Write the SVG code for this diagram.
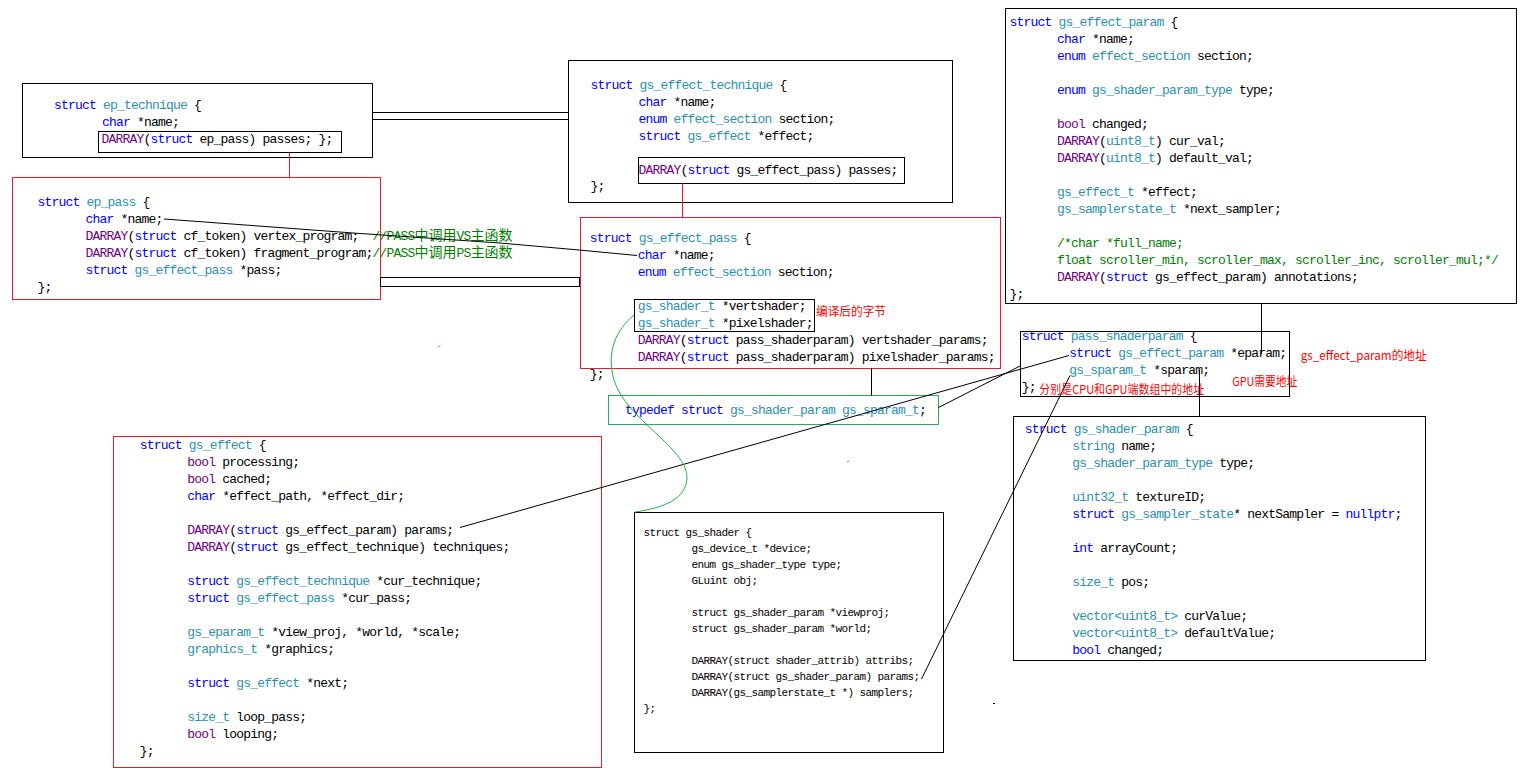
<svg xmlns="http://www.w3.org/2000/svg" width="1529" height="768" viewBox="0 0 1529 768">
<style>
.bg{fill:#fff}
.bx{fill:none;stroke:#000;stroke-width:1}
.rb{fill:none;stroke:#ed1c24;stroke-width:1}
.gb{fill:none;stroke:#22b14c;stroke-width:1}
.c{font-family:"Liberation Mono","Noto Sans CJK SC",monospace;font-size:13px;letter-spacing:-0.8px;fill:#000}
.s{font-family:"Liberation Mono","Noto Sans CJK SC",monospace;font-size:11px;letter-spacing:-0.6px;fill:#000}
.k{fill:#0000ff}
.t{fill:#2b91af}
.p{fill:#6f008a}
.g{fill:#008000}
.z{font-family:"Noto Sans CJK SC",sans-serif;font-size:14px;letter-spacing:0px}
.r{font-family:"Noto Sans CJK SC",sans-serif;font-size:12px;fill:#ff0000}
.ln{fill:none;stroke:#000;stroke-width:1}
.rl{fill:none;stroke:#ed1c24;stroke-width:1}
.gl{fill:none;stroke:#22b14c;stroke-width:1}
</style>
<rect class="bg" x="0" y="0" width="1529" height="768"/>

<g id="ep_technique">
<rect class="bx" x="22.5" y="83.5" width="350" height="74"/>
<rect class="bx" x="98.5" y="131.5" width="243" height="21"/>
<text class="c" x="54" y="109"><tspan class="k">struct</tspan> <tspan class="t">ep_technique</tspan> {</text>
<text class="c" x="102" y="126"><tspan class="k">char</tspan> *name;</text>
<text class="c" x="101.5" y="143"><tspan class="p">DARRAY</tspan>(<tspan class="k">struct</tspan> ep_pass) passes; };</text>
</g>

<g id="ep_pass">
<rect class="rb" x="12.5" y="177.5" width="368" height="122"/>
<text class="c" x="37.5" y="205.5"><tspan class="k">struct</tspan> <tspan class="t">ep_pass</tspan> {</text>
<text class="c" x="85.5" y="222.5"><tspan class="k">char</tspan> *name;</text>
<text class="c" x="85.5" y="239.5"><tspan class="p">DARRAY</tspan>(<tspan class="k">struct</tspan> cf_token) vertex_program;<tspan class="g" x="372.5">//PASS<tspan class="z">中调用</tspan>VS<tspan class="z">主函数</tspan></tspan></text>
<text class="c" x="85.5" y="256.5"><tspan class="p">DARRAY</tspan>(<tspan class="k">struct</tspan> cf_token) fragment_program;<tspan class="g">//PASS<tspan class="z">中调用</tspan>PS<tspan class="z">主函数</tspan></tspan></text>
<text class="c" x="85.5" y="273.5"><tspan class="k">struct</tspan> <tspan class="t">gs_effect_pass</tspan> *pass;</text>
<text class="c" x="37.5" y="290.5">};</text>
</g>

<g id="gs_effect_technique">
<rect class="bx" x="568.5" y="60.5" width="384" height="142"/>
<rect class="bx" x="638.5" y="157.5" width="266" height="26"/>
<text class="c" x="590.5" y="88.5"><tspan class="k">struct</tspan> <tspan class="t">gs_effect_technique</tspan> {</text>
<text class="c" x="638.5" y="105.5"><tspan class="k">char</tspan> *name;</text>
<text class="c" x="638.5" y="122.5"><tspan class="k">enum</tspan> <tspan class="t">effect_section</tspan> section;</text>
<text class="c" x="638.5" y="139.5"><tspan class="k">struct</tspan> <tspan class="t">gs_effect</tspan> *effect;</text>
<text class="c" x="638.5" y="173.5"><tspan class="p">DARRAY</tspan>(<tspan class="k">struct</tspan> gs_effect_pass) passes;</text>
<text class="c" x="590.5" y="190">};</text>
</g>

<g id="gs_effect_pass">
<rect class="rb" x="580.5" y="217.5" width="420" height="151"/>
<rect class="bx" x="634.5" y="299.5" width="180" height="32"/>
<text class="c" x="589.7" y="241.5"><tspan class="k">struct</tspan> <tspan class="t">gs_effect_pass</tspan> {</text>
<text class="c" x="637.7" y="258.5"><tspan class="k">char</tspan> *name;</text>
<text class="c" x="637.7" y="275.5"><tspan class="k">enum</tspan> <tspan class="t">effect_section</tspan> section;</text>
<text class="c" x="637.7" y="309.5"><tspan class="t">gs_shader_t</tspan> *vertshader;</text>
<text class="c" x="637.7" y="326.5"><tspan class="t">gs_shader_t</tspan> *pixelshader;</text>
<text class="c" x="637.7" y="343.5"><tspan class="p">DARRAY</tspan>(<tspan class="k">struct</tspan> pass_shaderparam) vertshader_params;</text>
<text class="c" x="637.7" y="360.5"><tspan class="p">DARRAY</tspan>(<tspan class="k">struct</tspan> pass_shaderparam) pixelshader_params;</text>
<text class="c" x="589.7" y="377.5">};</text>
<text class="r" x="816" y="316" textLength="70" lengthAdjust="spacingAndGlyphs">编译后的字节</text>
</g>

<g id="gs_effect_param">
<rect class="bx" x="1005.5" y="8.5" width="511" height="295"/>
<text class="c" x="1009.5" y="25.5"><tspan class="k">struct</tspan> <tspan class="t">gs_effect_param</tspan> {</text>
<text class="c" x="1057" y="42.5"><tspan class="k">char</tspan> *name;</text>
<text class="c" x="1057" y="59.5"><tspan class="k">enum</tspan> <tspan class="t">effect_section</tspan> section;</text>
<text class="c" x="1057" y="93.5"><tspan class="k">enum</tspan> <tspan class="t">gs_shader_param_type</tspan> type;</text>
<text class="c" x="1057" y="127.5"><tspan class="p">bool</tspan> changed;</text>
<text class="c" x="1057" y="144.5"><tspan class="p">DARRAY</tspan>(<tspan class="t">uint8_t</tspan>) cur_val;</text>
<text class="c" x="1057" y="161.5"><tspan class="p">DARRAY</tspan>(<tspan class="t">uint8_t</tspan>) default_val;</text>
<text class="c" x="1057" y="195.5"><tspan class="t">gs_effect_t</tspan> *effect;</text>
<text class="c" x="1057" y="212.5"><tspan class="t">gs_samplerstate_t</tspan> *next_sampler;</text>
<text class="c g" x="1057" y="246.5">/*char *full_name;</text>
<text class="c g" x="1057" y="263.5">float scroller_min, scroller_max, scroller_inc, scroller_mul;*/</text>
<text class="c" x="1057" y="280.5"><tspan class="p">DARRAY</tspan>(<tspan class="k">struct</tspan> gs_effect_param) annotations;</text>
<text class="c" x="1009.5" y="297.5">};</text>
</g>

<g id="pass_shaderparam">
<rect class="bx" x="1020.5" y="331.5" width="269" height="65"/>
<text class="c" x="1021.7" y="339.5"><tspan class="k">struct</tspan> <tspan class="t">pass_shaderparam</tspan> {</text>
<text class="c" x="1069.3" y="356.5"><tspan class="k">struct</tspan> <tspan class="t">gs_effect_param</tspan> *eparam;</text>
<text class="c" x="1069.3" y="373.5"><tspan class="t">gs_sparam_t</tspan> *sparam;</text>
<text class="c" x="1021.7" y="390.5">};</text>
<text class="r" x="1039.3" y="394" textLength="165" lengthAdjust="spacingAndGlyphs">分别是CPU和GPU端数组中的地址</text>
<text class="r" x="1232.3" y="386" textLength="65" lengthAdjust="spacingAndGlyphs">GPU需要地址</text>
<text class="r" x="1300.7" y="359.5" textLength="126" lengthAdjust="spacingAndGlyphs">gs_effect_param的地址</text>
</g>

<g id="typedef_sparam">
<rect class="gb" x="608.5" y="395.5" width="330" height="29"/>
<text class="c" x="625" y="413.5"><tspan class="k">typedef struct</tspan> <tspan class="t">gs_shader_param gs_sparam_t</tspan>;</text>
</g>

<g id="gs_effect">
<rect class="rb" x="113.5" y="436.5" width="488" height="331"/>
<text class="c" x="139.7" y="448.5"><tspan class="k">struct</tspan> <tspan class="t">gs_effect</tspan> {</text>
<text class="c" x="187.3" y="465.5"><tspan class="p">bool</tspan> processing;</text>
<text class="c" x="187.3" y="482.5"><tspan class="p">bool</tspan> cached;</text>
<text class="c" x="187.3" y="499.5"><tspan class="k">char</tspan> *effect_path, *effect_dir;</text>
<text class="c" x="187.3" y="533.5"><tspan class="p">DARRAY</tspan>(<tspan class="k">struct</tspan> gs_effect_param) params;</text>
<text class="c" x="187.3" y="550.5"><tspan class="p">DARRAY</tspan>(<tspan class="k">struct</tspan> gs_effect_technique) techniques;</text>
<text class="c" x="187.3" y="584.5"><tspan class="k">struct</tspan> <tspan class="t">gs_effect_technique</tspan> *cur_technique;</text>
<text class="c" x="187.3" y="601.5"><tspan class="k">struct</tspan> <tspan class="t">gs_effect_pass</tspan> *cur_pass;</text>
<text class="c" x="187.3" y="635.5"><tspan class="t">gs_eparam_t</tspan> *view_proj, *world, *scale;</text>
<text class="c" x="187.3" y="652.5"><tspan class="t">graphics_t</tspan> *graphics;</text>
<text class="c" x="187.3" y="686.5"><tspan class="k">struct</tspan> <tspan class="t">gs_effect</tspan> *next;</text>
<text class="c" x="187.3" y="720.5"><tspan class="t">size_t</tspan> loop_pass;</text>
<text class="c" x="187.3" y="737.5"><tspan class="p">bool</tspan> looping;</text>
<text class="c" x="139.7" y="754.5">};</text>
</g>

<g id="gs_shader">
<rect class="bx" x="634.5" y="512.5" width="309" height="240"/>
<text class="s" x="643.5" y="535.5">struct gs_shader {</text>
<text class="s" x="691.5" y="551.5">gs_device_t *device;</text>
<text class="s" x="691.5" y="567.5">enum gs_shader_type type;</text>
<text class="s" x="691.5" y="583.5">GLuint obj;</text>
<text class="s" x="691.5" y="615.5">struct gs_shader_param *viewproj;</text>
<text class="s" x="691.5" y="631.5">struct gs_shader_param *world;</text>
<text class="s" x="691.5" y="663.5">DARRAY(struct shader_attrib) attribs;</text>
<text class="s" x="691.5" y="679.5">DARRAY(struct gs_shader_param) params;</text>
<text class="s" x="691.5" y="695.5">DARRAY(gs_samplerstate_t *) samplers;</text>
<text class="s" x="643.5" y="711.5">};</text>
</g>

<g id="gs_shader_param">
<rect class="bx" x="1013.5" y="416.5" width="412" height="244"/>
<text class="c" x="1024.7" y="432.5"><tspan class="k">struct</tspan> <tspan class="t">gs_shader_param</tspan> {</text>
<text class="c" x="1072.3" y="449.5"><tspan class="t">string</tspan> name;</text>
<text class="c" x="1072.3" y="466.5"><tspan class="t">gs_shader_param_type</tspan> type;</text>
<text class="c" x="1072.3" y="500.5"><tspan class="t">uint32_t</tspan> textureID;</text>
<text class="c" x="1072.3" y="517.5"><tspan class="k">struct</tspan> <tspan class="t">gs_sampler_state</tspan>* nextSampler = <tspan class="k">nullptr</tspan>;</text>
<text class="c" x="1072.3" y="551.5"><tspan class="k">int</tspan> arrayCount;</text>
<text class="c" x="1072.3" y="585.5"><tspan class="t">size_t</tspan> pos;</text>
<text class="c" x="1072.3" y="619.5"><tspan class="t">vector&lt;uint8_t&gt;</tspan> curValue;</text>
<text class="c" x="1072.3" y="636.5"><tspan class="t">vector&lt;uint8_t&gt;</tspan> defaultValue;</text>
<text class="c" x="1072.3" y="653.5"><tspan class="k">bool</tspan> changed;</text>
</g>

<g id="connectors">
<rect class="ln" x="372.5" y="112.5" width="196" height="7"/>
<rect class="ln" x="380.5" y="277.5" width="199" height="9"/>
<line class="rl" x1="289.5" y1="152.5" x2="289.5" y2="177.5"/>
<line class="rl" x1="682.5" y1="183.5" x2="682.5" y2="217.5"/>
<polyline class="ln" points="164,219 360,233.5 500,243 579,250 637,255.5"/>
<line class="ln" x1="460" y1="527.5" x2="1069" y2="355.5"/>
<line class="ln" x1="938.5" y1="407.5" x2="1020" y2="366"/>
<line class="ln" x1="921.5" y1="679" x2="1070" y2="375.5"/>
<line class="ln" x1="871.5" y1="368.5" x2="871.5" y2="395.5"/>
<line class="ln" x1="1261.5" y1="303.5" x2="1261.5" y2="354"/>
<line class="ln" x1="1199.5" y1="370" x2="1199.5" y2="416.5"/>
<path class="gl" d="M634,315 C616,330 606,352 614,380 C626,420 688,448 687,478 C686,500 662,508 635,512"/>
<line class="rl" x1="438.5" y1="347" x2="440" y2="345.5"/>
<line class="gl" x1="847" y1="462" x2="849" y2="461"/>
<line class="ln" x1="993" y1="703.5" x2="995" y2="703.5"/>
</g>
</svg>
